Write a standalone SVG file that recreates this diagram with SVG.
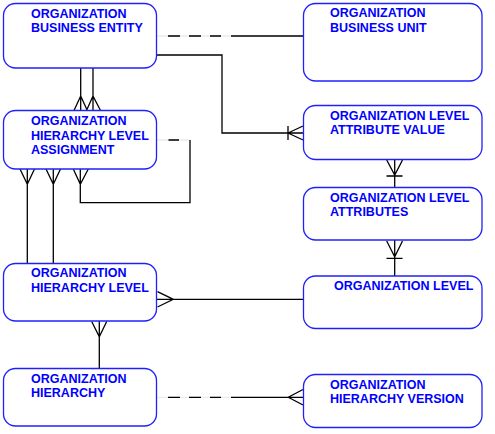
<svg xmlns="http://www.w3.org/2000/svg" width="495" height="434" viewBox="0 0 495 434">
<style>
.box{fill:#fff;stroke:#2020ff;stroke-width:1.3}
.t{font-family:"Liberation Sans",Arial,sans-serif;font-weight:bold;font-size:12.5px;fill:#0000ff}
.c{fill:none;stroke:#000;stroke-width:1.3}
.f{fill:none;stroke:#ececec;stroke-width:1.3}
</style>
<rect width="495" height="434" fill="#fff"/>
<g id="connectors">
<path class="f" d="M157,36H231M157,140H190M157,397.3H231"/>
<path class="c" d="M168,36H180M189,36H201M210,36H221M231,36H303"/>
<path class="c" d="M157,55H222V133H303M288,133L303,126M288,133L303,140M288,126V140"/>
<path class="c" d="M80.7,68V110.5M74,110.5L80.7,96L87.3,110.5M93,68V110.5M86.5,110.5L93,96L100.5,110.5"/>
<path class="c" d="M27.3,169V263.5M20,169L27.3,184.3L34.5,169M53.3,169V263.5M46,169L53.3,184.3L60.5,169"/>
<path class="c" d="M168.5,140H179M190,140V202.7H80.3V169M73.3,169L80.3,184.3L88.3,169"/>
<path class="c" d="M394.7,159.5V187.5M386.7,160L394.7,175L402.5,160M386.5,176H402.5"/>
<path class="c" d="M394.7,240V276M386.7,241L394.7,256.7L402.5,241M386.5,258.3H402.5"/>
<path class="c" d="M157,299.3H303M157.5,291.7L173.3,299.3L157.5,307"/>
<path class="c" d="M99.3,321V368.5M91.7,321.5L99.3,336.7L106.7,321.5"/>
<path class="c" d="M168,397.3H180M189,397.3H201M210,397.3H221M231,397.3H303M303,389.5L288.3,397.3L303,405"/>
</g>
<g id="business-entity"><rect class="box" x="3.5" y="3.5" width="153" height="64.5" rx="12"/><text class="t" x="31" y="17.5">ORGANIZATION</text><text class="t" x="31" y="32">BUSINESS ENTITY</text></g>
<g id="hierarchy-level-assignment"><rect class="box" x="3.5" y="110.5" width="153" height="58.5" rx="12"/><text class="t" x="31" y="125.3">ORGANIZATION</text><text class="t" x="31" y="139.5">HIERARCHY LEVEL</text><text class="t" x="31" y="153.7">ASSIGNMENT</text></g>
<g id="hierarchy-level"><rect class="box" x="3.5" y="263.5" width="153" height="57.5" rx="12"/><text class="t" x="31" y="276.7">ORGANIZATION</text><text class="t" x="31" y="291.5">HIERARCHY LEVEL</text></g>
<g id="hierarchy"><rect class="box" x="3.5" y="368.5" width="153" height="57.5" rx="12"/><text class="t" x="31" y="382.5">ORGANIZATION</text><text class="t" x="31" y="397">HIERARCHY</text></g>
<g id="business-unit"><rect class="box" x="303.5" y="3.5" width="178.5" height="77.5" rx="12"/><text class="t" x="330" y="17.3">ORGANIZATION</text><text class="t" x="330" y="32">BUSINESS UNIT</text></g>
<g id="level-attribute-value"><rect class="box" x="303.5" y="105.5" width="178.5" height="54" rx="12"/><text class="t" x="330" y="120">ORGANIZATION LEVEL</text><text class="t" x="330" y="134">ATTRIBUTE VALUE</text></g>
<g id="level-attributes"><rect class="box" x="303.5" y="187.5" width="178.5" height="52.5" rx="12"/><text class="t" x="330" y="201.7">ORGANIZATION LEVEL</text><text class="t" x="330" y="215.7">ATTRIBUTES</text></g>
<g id="organization-level"><rect class="box" x="303.5" y="276" width="178.5" height="52.5" rx="12"/><text class="t" x="334" y="290">ORGANIZATION LEVEL</text></g>
<g id="hierarchy-version"><rect class="box" x="303.5" y="374.5" width="178.5" height="53" rx="12"/><text class="t" x="330" y="388.7">ORGANIZATION</text><text class="t" x="330" y="402.7">HIERARCHY VERSION</text></g>
</svg>
